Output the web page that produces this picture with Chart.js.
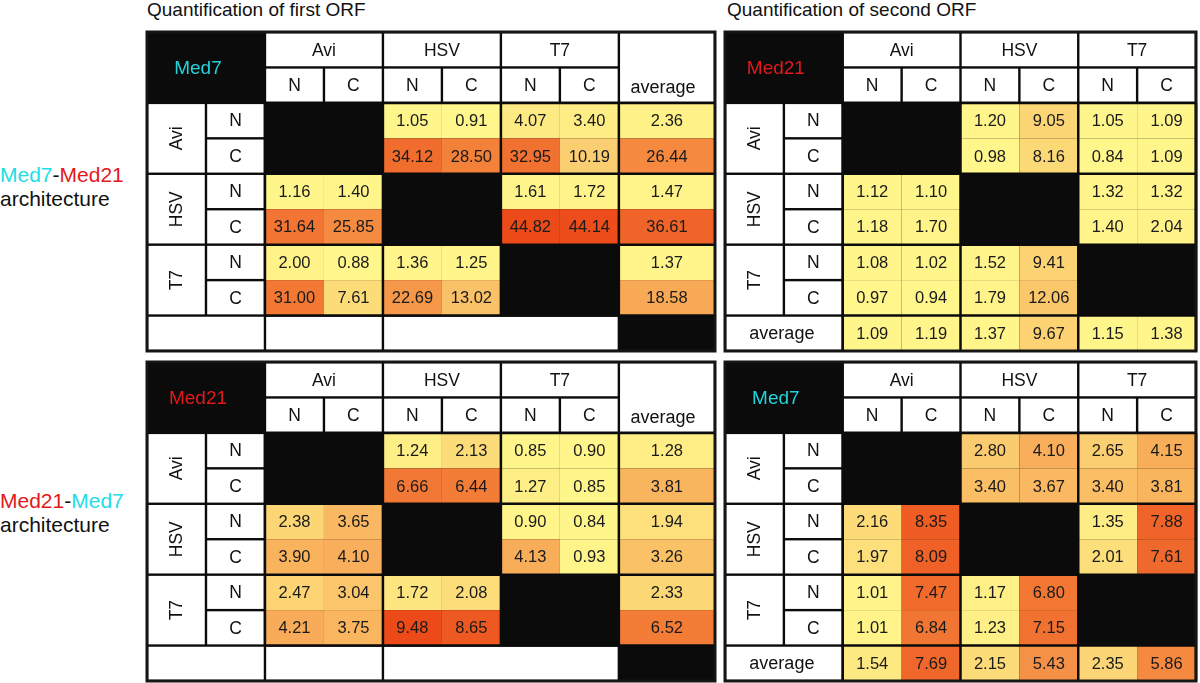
<!DOCTYPE html>
<html>
<head>
<meta charset="utf-8">
<script src="https://cdn.jsdelivr.net/npm/chart.js@4.4.1/dist/chart.umd.min.js"></script>
<style>
  body { margin: 0; width: 1200px; height: 683px; background: #fff; position: relative; overflow: hidden;
         font-family: "Liberation Sans", Arial, sans-serif; }
  .title { position: absolute; top: -1px; font-size: 19px; color: #111; white-space: nowrap; }
  .arch { position: absolute; left: 0px; font-size: 21px; line-height: 24px; color: #111; white-space: nowrap; }
  .panel { position: absolute; }
  .panel canvas { display: block; }
  .cy { color: #22dce6; }
  .rd { color: #e3191b; }
</style>
</head>
<body>
<div class="title" style="left:147px">Quantification of first ORF</div>
<div class="title" style="left:727px">Quantification of second ORF</div>
<div class="arch" style="top:163px"><span class="cy">Med7</span>-<span class="rd">Med21</span><br>architecture</div>
<div class="arch" style="top:489px"><span class="rd">Med21</span>-<span class="cy">Med7</span><br>architecture</div>

<div class="panel" style="left:145px;top:30px"><canvas id="firstMed7" width="572" height="323"></canvas></div>
<div class="panel" style="left:723px;top:30px"><canvas id="secondMed21" width="475" height="323"></canvas></div>
<div class="panel" style="left:145px;top:360px"><canvas id="firstMed21" width="572" height="323"></canvas></div>
<div class="panel" style="left:723px;top:360px"><canvas id="secondMed7" width="475" height="323"></canvas></div>

<script>
const groups = ['Avi', 'HSV', 'T7'];
const ends = ['N', 'C'];

// rows and columns: Avi N, Avi C, HSV N, HSV C, T7 N, T7 C  (null = same tag, black cell)
const firstMed7 = [
    [null, null, 1.05, 0.91, 4.07, 3.40],
    [null, null, 34.12, 28.50, 32.95, 10.19],
    [1.16, 1.40, null, null, 1.61, 1.72],
    [31.64, 25.85, null, null, 44.82, 44.14],
    [2.00, 0.88, 1.36, 1.25, null, null],
    [31.00, 7.61, 22.69, 13.02, null, null]
];
const firstMed7Avg = [2.36, 26.44, 1.47, 36.61, 1.37, 18.58];

const secondMed21 = [
    [null, null, 1.20, 9.05, 1.05, 1.09],
    [null, null, 0.98, 8.16, 0.84, 1.09],
    [1.12, 1.10, null, null, 1.32, 1.32],
    [1.18, 1.70, null, null, 1.40, 2.04],
    [1.08, 1.02, 1.52, 9.41, null, null],
    [0.97, 0.94, 1.79, 12.06, null, null]
];
const secondMed21Avg = [1.09, 1.19, 1.37, 9.67, 1.15, 1.38];

const firstMed21 = [
    [null, null, 1.24, 2.13, 0.85, 0.90],
    [null, null, 6.66, 6.44, 1.27, 0.85],
    [2.38, 3.65, null, null, 0.90, 0.84],
    [3.90, 4.10, null, null, 4.13, 0.93],
    [2.47, 3.04, 1.72, 2.08, null, null],
    [4.21, 3.75, 9.48, 8.65, null, null]
];
const firstMed21Avg = [1.28, 3.81, 1.94, 3.26, 2.33, 6.52];

const secondMed7 = [
    [null, null, 2.80, 4.10, 2.65, 4.15],
    [null, null, 3.40, 3.67, 3.40, 3.81],
    [2.16, 8.35, null, null, 1.35, 7.88],
    [1.97, 8.09, null, null, 2.01, 7.61],
    [1.01, 7.47, 1.17, 6.80, null, null],
    [1.01, 6.84, 1.23, 7.15, null, null]
];
const secondMed7Avg = [1.54, 7.69, 2.15, 5.43, 2.35, 5.86];

// yellow -> red ramp
const ramp = [
    [0, [255, 247, 140]],
    [0.1, [253, 230, 128]],
    [0.25, [251, 200, 108]],
    [0.45, [247, 160, 80]],
    [0.65, [243, 125, 55]],
    [0.85, [239, 95, 38]],
    [1, [236, 75, 25]]
];

function heatColor(v, vmin, vmax) {
    let t = Math.max(0, Math.min(1, (v - vmin) / (vmax - vmin)));
    for (let i = 1; i < ramp.length; i++) {
        if (t <= ramp[i][0]) {
            const [t0, c0] = ramp[i - 1], [t1, c1] = ramp[i];
            const f = (t - t0) / (t1 - t0);
            const c = c0.map((a, k) => Math.round(a + (c1[k] - a) * f));
            return `rgb(${c[0]},${c[1]},${c[2]})`;
        }
    }
    return 'rgb(236,75,25)';
}

const BLACK = '#0b0b0b';
const WHITE = '#ffffff';

const heatTable = {
    id: 'heatTable',
    beforeDatasetsDraw(chart, args, opts) {
        const ctx = chart.ctx;
        const sx = chart.scales.x, sy = chart.scales.y;
        const xe = opts.xEdges;
        const X = c => sx.getPixelForValue(xe[c]);
        const Y = r => sy.getPixelForValue(r);
        const last = xe.length - 1;

        const box = (c0, c1, r0, r1, fill, inset) => {
            ctx.fillStyle = fill;
            ctx.fillRect(X(c0) + inset, Y(r0) + inset, X(c1) - X(c0) - 2 * inset, Y(r1) - Y(r0) - 2 * inset);
        };
        const text = (s, x, y, size, color, rot) => {
            ctx.save();
            ctx.translate(x, y);
            if (rot) ctx.rotate(-Math.PI / 2);
            ctx.font = `${size}px "Liberation Sans", Arial, sans-serif`;
            ctx.fillStyle = color;
            ctx.textAlign = 'center';
            ctx.textBaseline = 'middle';
            ctx.fillText(s, 0, 1);
            ctx.restore();
        };
        const midX = (c0, c1) => (X(c0) + X(c1)) / 2;
        const midY = (r0, r1) => (Y(r0) + Y(r1)) / 2;

        ctx.save();
        box(0, last, 0, 9, BLACK, 0);

        // corner label
        text(opts.name, midX(0, 2) - 8, midY(0, 2), 19, opts.nameColor);

        // column headers
        groups.forEach((g, i) => {
            box(2 + 2 * i, 4 + 2 * i, 0, 1, WHITE, 1.2);
            text(g, midX(2 + 2 * i, 4 + 2 * i), midY(0, 1), 17.5, '#111');
            ends.forEach((e, j) => {
                const c = 2 + 2 * i + j;
                box(c, c + 1, 1, 2, WHITE, 1.2);
                text(e, midX(c, c + 1), midY(1, 2), 17.5, '#111');
            });
        });

        // row headers
        groups.forEach((g, i) => {
            box(0, 1, 2 + 2 * i, 4 + 2 * i, WHITE, 1.2);
            text(g, midX(0, 1), midY(2 + 2 * i, 4 + 2 * i), 17.5, '#111', true);
            ends.forEach((e, j) => {
                const r = 2 + 2 * i + j;
                box(1, 2, r, r + 1, WHITE, 1.2);
                text(e, midX(1, 2), midY(r, r + 1), 17.5, '#111');
            });
        });

        // average header / bottom row
        if (opts.avgMode === 'row') {
            box(8, 9, 0, 2, WHITE, 1.2);
            text('average', midX(8, 9) - 4, midY(1, 2) + 2, 18, '#111');
            box(0, 2, 8, 9, WHITE, 1.2);
            box(2, 4, 8, 9, WHITE, 1.2);
            box(4, 8, 8, 9, WHITE, 1.2);
        } else {
            box(0, 2, 8, 9, WHITE, 1.2);
            text('average', midX(0, 2) - 2, midY(8, 9), 18, '#111');
        }

        // value cells
        const cells = [];
        chart.data.datasets.forEach(ds => ds.data.forEach(p => { if (p.v != null) cells.push(p); }));
        cells.forEach(p => box(p.c, p.c + 1, p.r, p.r + 1, heatColor(p.v, opts.vmin, opts.vmax), 0));

        // group separators
        const yEnd = opts.avgMode === 'row' ? 8 : 9;
        ctx.strokeStyle = BLACK;
        ctx.lineWidth = 2.5;
        ctx.beginPath();
        [2, 4, 6, 8].forEach(c => { ctx.moveTo(X(c), Y(2)); ctx.lineTo(X(c), Y(yEnd)); });
        [2, 4, 6, 8].forEach(r => { ctx.moveTo(X(2), Y(r)); ctx.lineTo(X(last), Y(r)); });
        ctx.stroke();

        cells.forEach(p => text(p.v.toFixed(2), midX(p.c, p.c + 1), midY(p.r, p.r + 1), 16.5, '#1a1a1a'));

        // outer frame
        ctx.lineWidth = 3;
        ctx.strokeStyle = '#151515';
        ctx.strokeRect(X(0), Y(0), X(last) - X(0), Y(9) - Y(0));
        ctx.restore();
    }
};

function makePanel(id, name, nameColor, values, averages, avgMode, vmin, vmax) {
    const xEdges = avgMode === 'row' ? [0, 1, 2, 3, 4, 5, 6, 7, 8, 9.63] : [0, 1, 2, 3, 4, 5, 6, 7, 8];
    const cellPoints = [];
    values.forEach((row, r) => row.forEach((v, c) => {
        cellPoints.push({ x: (xEdges[c + 2] + xEdges[c + 3]) / 2, y: r + 2.5, c: c + 2, r: r + 2, v });
    }));
    const avgPoints = averages.map((v, i) => avgMode === 'row'
        ? { x: (xEdges[8] + xEdges[9]) / 2, y: i + 2.5, c: 8, r: i + 2, v }
        : { x: (xEdges[i + 2] + xEdges[i + 3]) / 2, y: 8.5, c: i + 2, r: 8, v });

    new Chart(document.getElementById(id), {
        type: 'scatter',
        data: {
            datasets: [
                { label: 'pairs', data: cellPoints, pointRadius: 0 },
                { label: 'average', data: avgPoints, pointRadius: 0 }
            ]
        },
        options: {
            responsive: false,
            animation: false,
            devicePixelRatio: 1,
            layout: { padding: 2 },
            events: [],
            plugins: {
                legend: { display: false },
                tooltip: { enabled: false },
                heatTable: { xEdges, name, nameColor, avgMode, vmin, vmax }
            },
            scales: {
                x: { type: 'linear', display: false, min: 0, max: xEdges[xEdges.length - 1] },
                y: { type: 'linear', display: false, min: 0, max: 9, reverse: true }
            }
        },
        plugins: [heatTable]
    });
}

makePanel('firstMed7', 'Med7', '#22d4dc', firstMed7, firstMed7Avg, 'row', 0.8, 44.82);
makePanel('secondMed21', 'Med21', '#e3191b', secondMed21, secondMed21Avg, 'col', 0.8, 44.82);
makePanel('firstMed21', 'Med21', '#e3191b', firstMed21, firstMed21Avg, 'row', 0.8, 9.48);
makePanel('secondMed7', 'Med7', '#22d4dc', secondMed7, secondMed7Avg, 'col', 0.8, 9.48);
</script>
</body>
</html>
